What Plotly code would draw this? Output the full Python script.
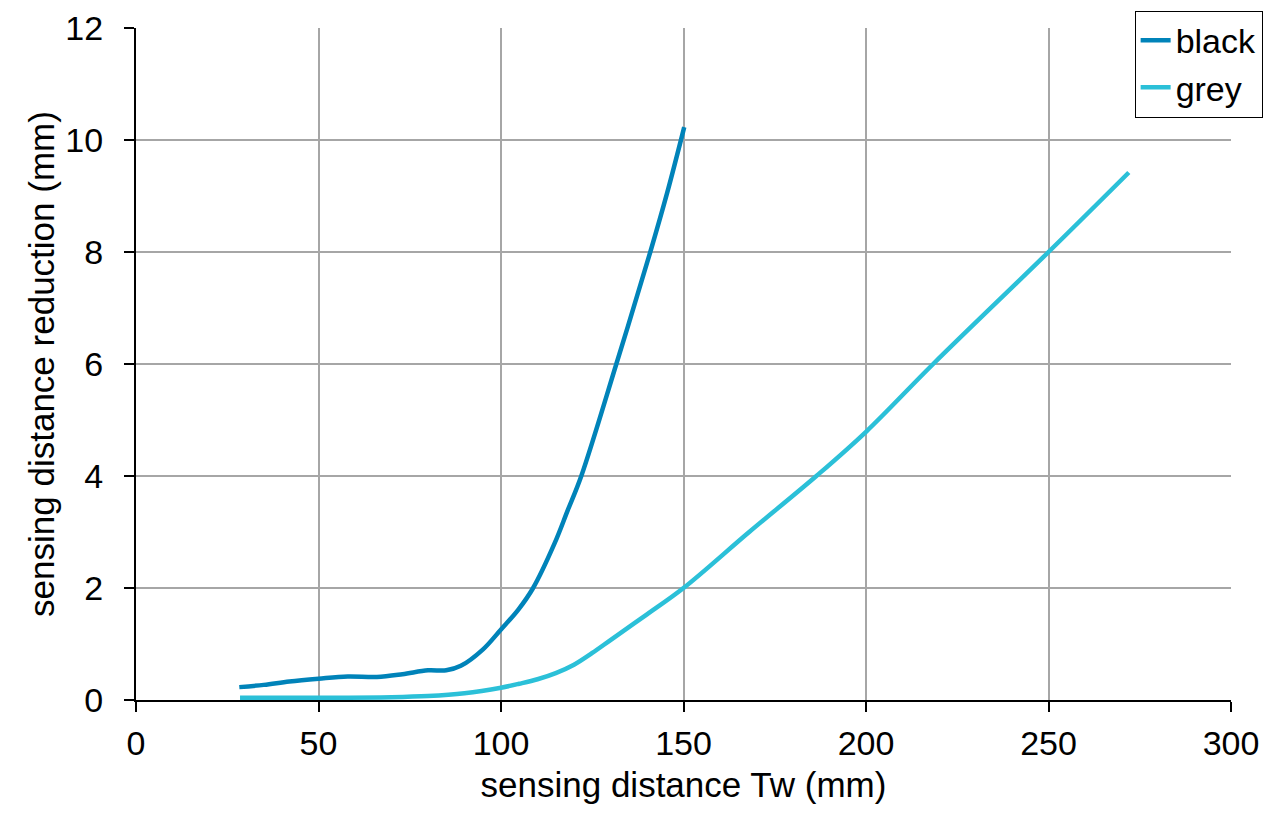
import plotly.graph_objects as go

# values
black_x = [28.3, 35, 42, 50, 58, 66, 73, 80, 85, 89, 95, 100, 104.7, 108.8,
           114.7, 118.3, 122, 131.6, 140.9, 145.5, 150.2]
black_y = [0.23, 0.27, 0.33, 0.38, 0.42, 0.41, 0.46, 0.53, 0.53, 0.61, 0.90, 1.26,
           1.61, 2.0, 2.8, 3.39, 4.0, 6.0, 8.0, 9.05, 10.23]

grey_x = [28.5, 50, 70, 80, 90, 100, 105, 110, 115, 120, 125, 130, 140, 150, 168,
          186.4, 200, 218.4, 250, 272]
grey_y = [0.04, 0.04, 0.05, 0.07, 0.12, 0.22, 0.29, 0.37, 0.48, 0.63, 0.84, 1.07,
          1.53, 2.0, 3.0, 4.0, 4.79, 6.0, 8.0, 9.42]

FONT = "Liberation Sans, Arial, sans-serif"

fig = go.Figure()
fig.add_trace(go.Scatter(x=black_x, y=black_y, name="black", mode="lines",
                         line=dict(color="#0083b9", width=4.5, shape="spline", smoothing=1.0),
                         legendgroup="a"))
fig.add_trace(go.Scatter(x=grey_x, y=grey_y, name="grey", mode="lines",
                         line=dict(color="#2bc0d8", width=4.5, shape="spline", smoothing=1.0),
                         legendgroup="b"))

axis_common = dict(
    showline=True, linecolor="black", linewidth=2,
    ticks="outside", ticklen=10, tickwidth=2, tickcolor="black",
    showgrid=True, gridcolor="#a6a6a6", gridwidth=1.5,
    zeroline=False,
    tickfont=dict(size=34, color="black", family=FONT),
)

fig.update_xaxes(range=[0, 300], dtick=50, ticklabelstandoff=2,
                 title=dict(text="sensing distance Tw (mm)", font=dict(size=35, color="black", family=FONT),
                            standoff=12),
                 **axis_common)
fig.update_yaxes(range=[0, 12], dtick=2, ticklabelstandoff=14,
                 title=dict(text="sensing distance reduction (mm)", font=dict(size=35, color="black", family=FONT),
                            standoff=0),
                 **axis_common)

# the page body adds an 8px offset, margins compensate for it
fig.update_layout(
    width=1280, height=827,
    margin=dict(l=128, r=57, t=20, b=135, autoexpand=False),
    plot_bgcolor="white", paper_bgcolor="white",
    font=dict(family=FONT, color="black"),
    legend=dict(x=0.912, y=1.026, xanchor="left", yanchor="top",
                bordercolor="black", borderwidth=1, bgcolor="white",
                font=dict(size=34, color="black", family=FONT),
                traceorder="grouped", tracegroupgap=0),
    showlegend=True,
)

fig.write_html("out.html")
